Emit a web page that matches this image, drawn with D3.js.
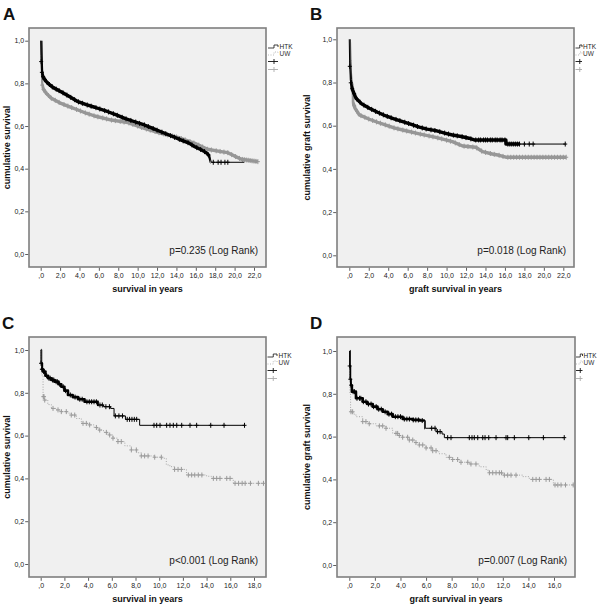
<!DOCTYPE html>
<html><head><meta charset="utf-8">
<script src="https://cdn.jsdelivr.net/npm/d3@7"></script>
<style>
body{margin:0;background:#fff}
svg{display:block}
text{font-family:"Liberation Sans",Arial,sans-serif}
</style>
</head><body>
<svg id="chart" width="600" height="604"></svg>
<script>
// ---------- tick labels ----------
const yTickValues = [0, 0.2, 0.4, 0.6, 0.8, 1.0];
const yTickLabels = ["0,0", "0,2", "0,4", "0,6", "0,8", "1,0"];
const xTicks22 = [0, 2, 4, 6, 8, 10, 12, 14, 16, 18, 20, 22];
const xLabels22 = [",0", "2,0", "4,0", "6,0", "8,0", "10,0", "12,0", "14,0", "16,0", "18,0", "20,0", "22,0"];
const xTicks18 = [0, 2, 4, 6, 8, 10, 12, 14, 16, 18];
const xLabels18 = [",0", "2,0", "4,0", "6,0", "8,0", "10,0", "12,0", "14,0", "16,0", "18,0"];
const xTicks16 = [0, 2, 4, 6, 8, 10, 12, 14, 16];
const xLabels16 = [",0", "2,0", "4,0", "6,0", "8,0", "10,0", "12,0", "14,0", "16,0"];
const seriesNames = ["HTK", "UW"];
const panelLetters = ["A", "B", "C", "D"];
const pValues = ["p=0.235 (Log Rank)", "p=0.018 (Log Rank)", "p<0.001 (Log Rank)", "p=0.007 (Log Rank)"];
const yTitles = ["cumulative survival", "cumulative graft survival", "cumulative survival", "cumulative graft survival"];
const xTitles = ["survival in years", "graft survival in years", "survival in years", "graft survival in years"];

// ---------- A: patient survival (all) ----------
const aHtkTime = [0, 0.03, 0.08, 0.2, 0.45, 0.75, 1.3, 2.1, 3.0, 3.85, 4.7, 5.57, 6.94, 7.8, 8.66, 9.7, 10.7, 11.5, 12.4, 13.5, 14.5, 15.3, 15.9, 16.5, 16.9, 17.2, 17.45, 17.6, 21.0];
const aHtkSurv = [1.0, 0.93, 0.86, 0.835, 0.815, 0.80, 0.78, 0.761, 0.737, 0.714, 0.70, 0.688, 0.667, 0.652, 0.636, 0.62, 0.605, 0.59, 0.573, 0.553, 0.534, 0.52, 0.503, 0.49, 0.48, 0.47, 0.456, 0.43, 0.43];
const aHtkCens = [0.05, 0.12, 0.25, 0.4, 0.6, 0.9, 1.2, 1.6, 1.9, 2.3, 2.7, 3.1, 3.5, 3.9, 4.3, 4.8, 5.2, 5.7, 6.1, 6.6, 7.0, 7.5, 7.9, 8.4, 8.8, 9.3, 9.8, 10.2, 10.7, 11.1, 11.6, 12.0, 12.5, 12.9, 13.4, 13.8, 14.3, 14.7, 15.2, 15.6, 16.1, 16.5, 16.9, 17.3, 17.8, 18.3, 18.6, 19.0, 19.3];
const aHtkDense = [0.05, 17.5];
const aUwTime = [0, 0.03, 0.1, 0.25, 0.58, 1.1, 2.1, 3.0, 3.85, 4.7, 5.57, 7.3, 9.0, 10.7, 12.4, 14.15, 15.9, 17.2, 18.6, 19.3, 20.0, 20.7, 22.4];
const aUwSurv = [1.0, 0.90, 0.80, 0.775, 0.753, 0.73, 0.706, 0.69, 0.675, 0.66, 0.647, 0.628, 0.616, 0.589, 0.566, 0.547, 0.519, 0.491, 0.48, 0.475, 0.459, 0.444, 0.433];
const aUwCens = [0.15, 0.3, 0.5, 0.8, 1.1, 1.5, 1.9, 2.4, 2.8, 3.2, 3.7, 4.1, 4.6, 5.0, 5.5, 5.9, 6.4, 6.8, 7.3, 7.7, 8.2, 8.6, 9.1, 9.5, 10.0, 10.4, 10.9, 11.3, 11.8, 12.2, 12.7, 13.1, 13.6, 14.0, 14.5, 14.9, 15.4, 15.8, 16.3, 16.7, 17.2, 17.6, 18.1, 18.5, 18.9, 19.3, 19.7, 20.1, 20.5, 20.8, 21.0, 21.2, 21.4, 21.6, 21.8, 22.0, 22.2, 22.4];
const aUwDense = [0.1, 22.4];

// ---------- B: graft survival (all) ----------
const bHtkTime = [0, 0.03, 0.1, 0.2, 0.35, 0.69, 1.3, 2.06, 2.9, 3.77, 4.6, 5.49, 6.3, 7.2, 8.0, 8.9, 9.8, 10.6, 11.5, 12.3, 12.85, 16.1, 16.1, 22.2];
const bHtkSurv = [1.0, 0.90, 0.812, 0.785, 0.765, 0.727, 0.70, 0.681, 0.662, 0.645, 0.632, 0.619, 0.607, 0.593, 0.584, 0.577, 0.566, 0.557, 0.55, 0.542, 0.534, 0.534, 0.515, 0.515];
const bHtkCens = [0.05, 0.15, 0.3, 0.5, 0.8, 1.1, 1.5, 1.9, 2.3, 2.7, 3.1, 3.5, 3.9, 4.3, 4.8, 5.2, 5.7, 6.1, 6.6, 7.0, 7.5, 7.9, 8.4, 8.8, 9.3, 9.8, 10.2, 10.7, 11.1, 11.6, 12.0, 12.5, 13.0, 13.3, 13.5, 13.8, 14.0, 14.2, 14.5, 14.7, 15.0, 15.2, 15.5, 15.7, 16.0, 16.3, 16.5, 16.7, 16.9, 17.1, 17.3, 17.5, 18.0, 18.5, 18.9, 22.2];
const bHtkDense = [0.1, 17.5];
const bUwTime = [0, 0.03, 0.2, 0.28, 0.35, 0.6, 1.03, 2.06, 2.9, 3.77, 4.6, 5.49, 7.2, 8.9, 10.6, 11.65, 13.0, 13.7, 14.7, 15.4, 16.1, 22.3];
const bUwSurv = [1.0, 0.88, 0.80, 0.788, 0.711, 0.68, 0.65, 0.63, 0.616, 0.603, 0.59, 0.58, 0.562, 0.546, 0.526, 0.506, 0.50, 0.48, 0.469, 0.463, 0.454, 0.454];
const bUwCens = [0.3, 0.5, 0.8, 1.2, 1.6, 2.0, 2.4, 2.8, 3.2, 3.7, 4.1, 4.6, 5.0, 5.5, 5.9, 6.4, 6.8, 7.3, 7.7, 8.2, 8.6, 9.1, 9.5, 10.0, 10.4, 10.9, 11.3, 11.8, 12.2, 12.7, 13.1, 13.6, 14.0, 14.5, 14.9, 15.4, 15.8, 16.3, 16.6, 16.9, 17.2, 17.5, 17.8, 18.1, 18.4, 18.7, 19.0, 19.3, 19.6, 19.9, 20.2, 20.5, 20.8, 21.1, 21.4, 21.7, 22.0, 22.3];
const bUwDense = [0.25, 22.3];

// ---------- C: patient survival (subgroup) ----------
const cHtkTime = [0, 0.02, 0.1, 0.2, 0.4, 0.62, 0.9, 1.18, 1.5, 1.74, 2.0, 2.3, 2.7, 3.15, 3.7, 4.84, 5.3, 5.9, 6.19, 7.15, 8.35, 17.2];
const cHtkSurv = [1.0, 0.938, 0.91, 0.899, 0.88, 0.868, 0.86, 0.852, 0.84, 0.828, 0.81, 0.79, 0.78, 0.77, 0.758, 0.743, 0.735, 0.727, 0.692, 0.676, 0.648, 0.648];
const cHtkCens = [0.03, 0.1, 0.15, 0.25, 0.3, 0.5, 0.7, 0.8, 1.0, 1.1, 1.3, 1.4, 1.6, 1.9, 2.1, 2.5, 2.9, 3.3, 3.5, 3.9, 4.1, 4.3, 4.5, 4.7, 5.0, 5.2, 5.5, 5.8, 6.3, 6.6, 6.9, 7.3, 7.5, 7.7, 7.9, 8.1, 9.56, 9.79, 10.07, 10.63, 10.91, 11.19, 11.48, 11.9, 12.6, 13.16, 14.35, 15.47, 17.2];
const cHtkDense = [0.05, 4.9];
const cUwTime = [0, 0.03, 0.08, 0.2, 0.3, 0.6, 0.9, 1.3, 1.74, 2.2, 2.58, 3.0, 3.43, 4.13, 4.5, 4.84, 5.3, 5.68, 6.1, 6.52, 7.1, 7.65, 8.1, 8.49, 9.62, 10.2, 10.6, 10.9, 11.3, 12.3, 14.0, 14.4, 16.25, 18.8];
const cUwSurv = [1.0, 0.93, 0.883, 0.782, 0.766, 0.745, 0.727, 0.72, 0.712, 0.705, 0.696, 0.68, 0.657, 0.65, 0.638, 0.626, 0.615, 0.603, 0.588, 0.572, 0.552, 0.533, 0.52, 0.505, 0.499, 0.494, 0.463, 0.455, 0.442, 0.416, 0.41, 0.40, 0.377, 0.377];
const cUwCens = [0.22, 0.28, 0.34, 1.04, 1.46, 1.74, 2.16, 2.58, 2.87, 3.57, 3.85, 4.13, 4.7, 4.98, 5.54, 5.82, 6.1, 6.52, 6.8, 7.65, 8.07, 8.49, 8.77, 9.06, 9.62, 10.18, 11.3, 11.59, 11.87, 12.46, 12.74, 13.0, 13.3, 13.6, 14.57, 14.85, 15.13, 15.7, 15.98, 16.4, 16.7, 17.0, 17.25, 17.7, 18.37, 18.8];

// ---------- D: graft survival (subgroup) ----------
const dHtkTime = [0, 0.02, 0.05, 0.1, 0.2, 0.52, 1.05, 1.4, 1.83, 2.2, 2.61, 3.0, 3.39, 4.17, 4.96, 5.5, 5.94, 6.78, 7.25, 7.43, 16.8];
const dHtkSurv = [1.0, 0.93, 0.868, 0.84, 0.81, 0.779, 0.763, 0.752, 0.74, 0.728, 0.716, 0.705, 0.693, 0.682, 0.678, 0.675, 0.639, 0.623, 0.612, 0.595, 0.595];
const dHtkCens = [0.03, 0.08, 0.15, 0.3, 0.4, 0.6, 0.8, 0.9, 1.1, 1.3, 1.5, 1.7, 1.9, 2.1, 2.3, 2.5, 2.8, 3.1, 3.3, 3.6, 3.8, 4.0, 4.3, 4.5, 4.7, 5.0, 5.2, 5.4, 5.7, 6.44, 6.7, 6.9, 7.1, 7.69, 7.95, 9.38, 9.59, 9.77, 10.04, 10.43, 10.61, 10.9, 11.47, 12.25, 12.38, 12.9, 14.03, 15.17, 16.8];
const dHtkDense = [0.05, 5.9];
const dUwTime = [0, 0.02, 0.05, 0.1, 0.3, 0.52, 1.05, 1.5, 2.09, 2.87, 3.39, 3.8, 4.17, 4.69, 5.1, 5.47, 6.0, 6.52, 7.0, 7.56, 8.0, 8.6, 9.38, 10.16, 10.7, 10.95, 12.0, 13.56, 14.07, 15.95, 17.5];
const dUwSurv = [1.0, 0.87, 0.802, 0.716, 0.705, 0.693, 0.67, 0.66, 0.65, 0.639, 0.615, 0.605, 0.597, 0.584, 0.572, 0.561, 0.547, 0.534, 0.52, 0.503, 0.493, 0.48, 0.472, 0.459, 0.443, 0.431, 0.42, 0.413, 0.40, 0.374, 0.374];
const dUwCens = [0.13, 0.26, 1.05, 1.3, 1.56, 2.35, 2.61, 2.87, 3.65, 3.78, 3.91, 4.17, 4.56, 4.69, 4.96, 5.21, 5.47, 5.74, 6.0, 6.39, 6.52, 6.78, 7.82, 8.08, 8.47, 8.73, 9.26, 9.51, 9.9, 10.95, 11.21, 11.47, 11.73, 11.9, 12.12, 12.38, 12.64, 13.03, 14.34, 14.6, 14.86, 15.38, 15.64, 16.08, 16.3, 16.55, 16.9, 17.5];

// ---------- layout ----------
const panels = [
  {frame: [29, 28, 266, 267], xd: [0, 22], xr: [40.7, 254], yr: [254, 40.7], xt: xTicks22, xl: xLabels22,
   dense: true, letter: [3, 20], leg: [268, 278, 279.5], ylabX: 7,
   htk: {t: aHtkTime, s: aHtkSurv, c: aHtkCens, band: aHtkDense}, uw: {t: aUwTime, s: aUwSurv, c: aUwCens, band: aUwDense}},
  {frame: [337, 28, 574, 267], xd: [0, 22], xr: [349.3, 563.3], yr: [255.3, 39.3], xt: xTicks22, xl: xLabels22,
   dense: true, letter: [310, 20], leg: [575.5, 582, 583], ylabX: 307,
   htk: {t: bHtkTime, s: bHtkSurv, c: bHtkCens, band: bHtkDense}, uw: {t: bUwTime, s: bUwSurv, c: bUwCens, band: bUwDense}},
  {frame: [29, 337, 266, 577], xd: [0, 18], xr: [40.7, 254], yr: [564, 350], xt: xTicks18, xl: xLabels18,
   dense: false, letter: [2, 329], leg: [267.5, 277, 278.5], ylabX: 7,
   htk: {t: cHtkTime, s: cHtkSurv, c: cHtkCens, band: cHtkDense}, uw: {t: cUwTime, s: cUwSurv, c: cUwCens, band: null}},
  {frame: [337, 337, 575, 577], xd: [0, 16], xr: [349.3, 554], yr: [565, 351], xt: xTicks16, xl: xLabels16,
   dense: false, letter: [310, 329], leg: [576, 582.5, 583.5], ylabX: 307,
   htk: {t: dHtkTime, s: dHtkSurv, c: dHtkCens, band: dHtkDense}, uw: {t: dUwTime, s: dUwSurv, c: dUwCens, band: null}}
];

const svg = d3.select("#chart");
const defs = svg.append("defs");

function survAt(T, S, t, linear) {
  let i = 0;
  while (i + 1 < T.length && T[i + 1] <= t) i++;
  if (!linear || i + 1 >= T.length) return S[i];
  const t0 = T[i], t1 = T[i + 1];
  if (t1 === t0) return S[i + 1];
  return S[i] + (S[i + 1] - S[i]) * (t - t0) / (t1 - t0);
}

panels.forEach((p, pi) => {
  const [l, t, r, b] = p.frame;
  const x = d3.scaleLinear().domain(p.xd).range(p.xr);
  const y = d3.scaleLinear().domain([0, 1]).range(p.yr);
  const g = svg.append("g");

  // panel letter
  g.append("text").attr("x", p.letter[0]).attr("y", p.letter[1])
    .attr("font-size", 17).attr("font-weight", "bold").attr("fill", "#111").text(panelLetters[pi]);

  // plot background + frame
  g.append("rect").attr("x", l).attr("y", t).attr("width", r - l).attr("height", b - t)
    .attr("fill", "#f0f0f0").attr("stroke", "#7f7f7f").attr("stroke-width", 1.6);

  // axes
  const ya = g.append("g").attr("transform", `translate(${l - 0.8},0)`)
    .call(d3.axisLeft(y).tickValues(yTickValues).tickFormat((d, i) => yTickLabels[i]).tickSize(3).tickPadding(1));
  const xa = g.append("g").attr("transform", `translate(0,${b + 0.8})`)
    .call(d3.axisBottom(x).tickValues(p.xt).tickFormat((d, i) => p.xl[i]).tickSize(3).tickPadding(2.5));
  [ya, xa].forEach(a => {
    a.select(".domain").remove();
    a.selectAll("line").attr("stroke", "#333").attr("stroke-width", 0.8);
    a.selectAll("text").attr("font-size", 7).attr("fill", "#222").attr("font-family", '"Liberation Sans",Arial,sans-serif');
  });

  // axis titles
  g.append("text").attr("transform", `translate(${p.ylabX},${(t + b) / 2}) rotate(-90)`)
    .attr("text-anchor", "middle").attr("dominant-baseline", "central")
    .attr("font-size", 9).attr("font-weight", "bold").attr("fill", "#111").text(yTitles[pi]);
  g.append("text").attr("x", (l + r) / 2).attr("y", b + 25)
    .attr("text-anchor", "middle").attr("font-size", 9).attr("font-weight", "bold").attr("fill", "#111").text(xTitles[pi]);

  // p value
  g.append("text").attr("x", r - 8).attr("y", b - 13.5).attr("text-anchor", "end")
    .attr("font-size", 10).attr("fill", "#222").text(pValues[pi]);

  // curves
  const clipId = "clip" + pi;
  defs.append("clipPath").attr("id", clipId).append("rect").attr("x", l).attr("y", t).attr("width", r - l).attr("height", b - t);
  const cg = g.append("g").attr("clip-path", `url(#${clipId})`);

  const series = [
    {d: p.uw, color: p.dense ? "#979797" : "#a8a8a8", mark: p.dense ? "#979797" : "#9a9a9a", dash: p.dense ? null : "1,1.6"},
    {d: p.htk, color: "#000", mark: "#000", dash: null}
  ];
  series.forEach((sr, si) => {
    const pts = sr.d.t.map((tt, i) => [tt, sr.d.s[i]]);
    const line = d3.line().x(d => x(d[0])).y(d => y(d[1]))
      .curve(p.dense ? d3.curveLinear : d3.curveStepAfter);
    cg.append("path").attr("d", line(pts)).attr("fill", "none")
      .attr("stroke", sr.color).attr("stroke-width", p.dense ? 1 : 1)
      .attr("stroke-dasharray", sr.dash);
    if (sr.d.band) {
      const bid = `band${pi}_${si}`;
      defs.append("clipPath").attr("id", bid).append("rect")
        .attr("x", x(sr.d.band[0])).attr("y", t).attr("width", x(sr.d.band[1]) - x(sr.d.band[0])).attr("height", b - t);
      cg.append("g").attr("clip-path", `url(#${bid})`).append("path").attr("d", line(pts)).attr("fill", "none")
        .attr("stroke", sr.mark).attr("stroke-width", p.dense ? 3.4 : 2.6).attr("stroke-linejoin", "round");
    }
    // censor marks
    const mk = d3.path();
    sr.d.c.forEach(ct => {
      const cx = x(ct), cy = y(survAt(sr.d.t, sr.d.s, ct, p.dense));
      mk.moveTo(cx - 2, cy); mk.lineTo(cx + 2, cy);
      mk.moveTo(cx, cy - 2.5); mk.lineTo(cx, cy + 2.5);
    });
    cg.append("path").attr("d", mk.toString()).attr("fill", "none").attr("stroke", sr.mark).attr("stroke-width", 1);
  });

  // legend
  const [lx0, lx1, ltx] = p.leg;
  const lm = (lx0 + lx1) / 2 + 1;
  const ly = t + 18.5;
  const lg = g.append("g");
  lg.append("path").attr("d", `M${lx0},${ly + 1.5}H${lm}V${ly - 1.5}H${lx1}V${ly + 0.5}`)
    .attr("fill", "none").attr("stroke", "#111").attr("stroke-width", 0.8);
  lg.append("text").attr("x", ltx).attr("y", ly + 2.2).attr("font-size", 6.5).attr("fill", "#222").text(seriesNames[0]);
  const ly2 = ly + 7;
  lg.append("path").attr("d", `M${lx0},${ly2 + 1.5}H${lm}V${ly2 - 1.5}H${lx1}V${ly2 + 0.5}`)
    .attr("fill", "none").attr("stroke", "#aaa").attr("stroke-width", 0.8).attr("stroke-dasharray", "1,1.5");
  lg.append("text").attr("x", ltx).attr("y", ly2 + 2.2).attr("font-size", 6.5).attr("fill", "#333").text(seriesNames[1]);
  [[ly + 15, "#111"], [ly + 23, "#aaa"]].forEach(([yy, col]) => {
    lg.append("path").attr("d", `M${lx0},${yy}H${lx1}M${lm},${yy - 2.5}V${yy + 2.5}`)
      .attr("fill", "none").attr("stroke", col).attr("stroke-width", 0.9);
  });
});
</script>
</body></html>
